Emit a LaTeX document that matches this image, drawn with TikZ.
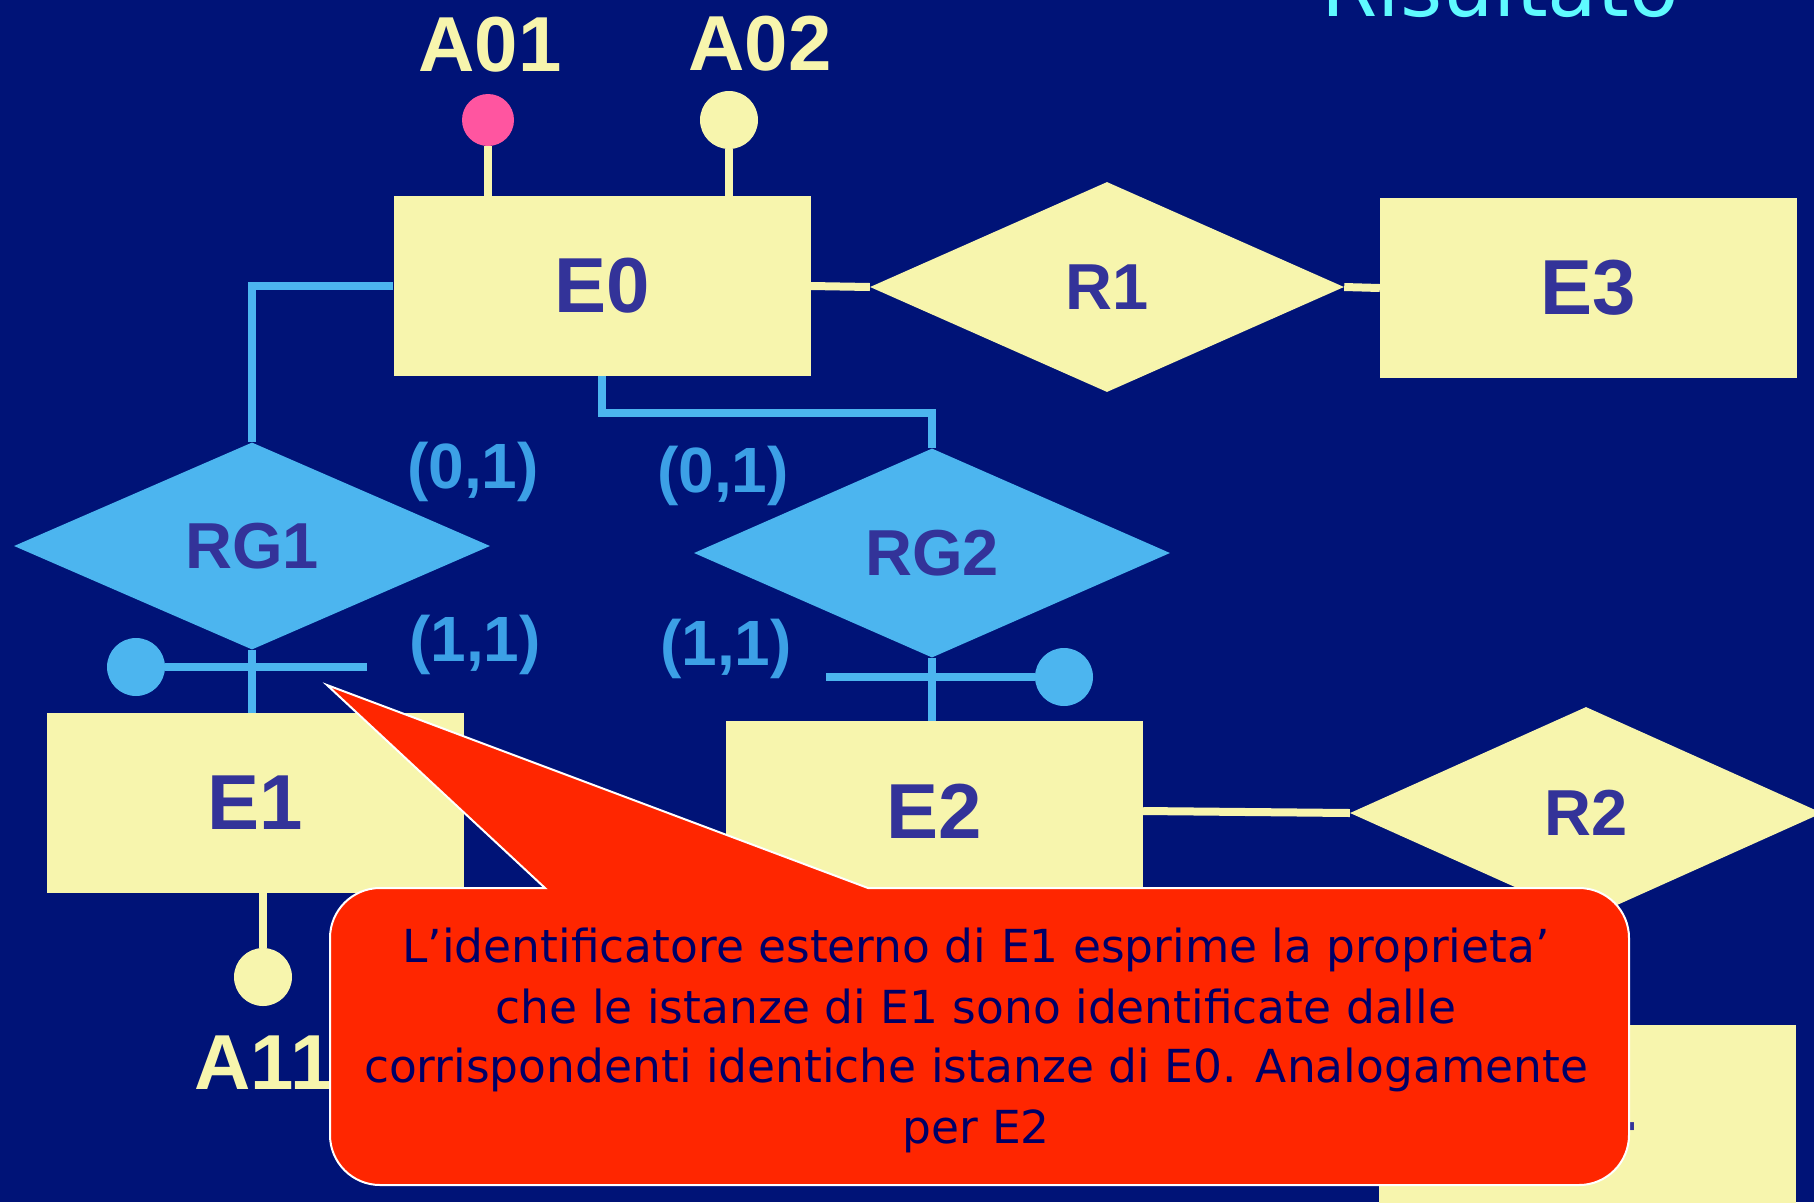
\documentclass[tikz,border=0pt]{standalone}
\usepackage{fontspec}
\usetikzlibrary{shapes.geometric}
\newfontfamily\erfont{Liberation Sans}
\newfontfamily\notefont{DejaVu Sans}
\definecolor{bgnavy}{RGB}{0,19,119}
\definecolor{erYellow}{RGB}{247,245,173}
\definecolor{erText}{RGB}{51,51,153}
\definecolor{erBlue}{RGB}{76,181,239}
\definecolor{cardBlue}{RGB}{60,160,230}
\definecolor{calloutRed}{RGB}{255,38,0}
\definecolor{calloutText}{RGB}{0,0,102}
\definecolor{keyPink}{RGB}{255,85,160}
\definecolor{titleCyan}{RGB}{95,250,255}
\begin{document}
\begin{tikzpicture}[x=1pt,y=-1pt,
  entity/.style={rectangle, fill=erYellow, minimum width=417pt, minimum height=180pt,
    inner sep=0pt, text=erText, font=\erfont\bfseries\fontsize{78pt}{78pt}\selectfont},
  rel/.style={diamond, fill=erYellow, inner sep=0pt, text=erText,
    font=\erfont\bfseries\fontsize{65pt}{65pt}\selectfont},
  idrel/.style={rel, fill=erBlue},
  keydot/.style={circle, inner sep=0pt},
  attrlabel/.style={inner sep=0pt, text=erYellow,
    font=\erfont\bfseries\fontsize{78pt}{78pt}\selectfont},
  card/.style={inner sep=0pt, text=cardBlue,
    font=\erfont\bfseries\fontsize{64pt}{64pt}\selectfont},
  yline/.style={draw=erYellow, line width=8pt},
  bline/.style={draw=erBlue, line width=8pt},
  callout/.style={fill=calloutRed, draw=white, line width=2pt, line join=miter},
  notetext/.style={inner sep=0pt, text=calloutText, anchor=base,
    font=\notefont\fontsize{45.5pt}{60pt}\selectfont},
  headtitle/.style={inner sep=0pt, text=titleCyan, anchor=base,
    font=\notefont\fontsize{81pt}{81pt}\selectfont}]

\useasboundingbox (0,0) rectangle (1814,1202);
\clip (0,0) rectangle (1814,1202);
\fill[bgnavy] (0,0) rectangle (1814,1202);

% slide title, mostly above the page edge
\node[headtitle] (title) at (1500,16) {Risultato};

% entities
\node[entity] (E0) at (602,286) {E0};
\node[entity] (E1) at (255.5,803) {E1};
\node[entity] (E2) at (934.5,811) {E2};
\node[entity] (E3) at (1588.5,288) {E3};
\node[entity] (E4) at (1587.5,1115) {E4};

% relationships
\node[rel, minimum width=474pt, minimum height=210pt] (R1) at (1107,287) {R1};
\node[rel, minimum width=472pt, minimum height=212pt] (R2) at (1586,813) {R2};
\node[idrel, minimum width=476pt, minimum height=207pt] (RG1) at (252,546) {RG1};
\node[idrel, minimum width=476pt, minimum height=209pt] (RG2) at (932,553) {RG2};

% attributes
\node[keydot, fill=keyPink, minimum size=52pt] (a01) at (488,120) {};
\node[keydot, fill=erYellow, minimum size=58pt] (a02) at (729,120) {};
\node[keydot, fill=erYellow, minimum size=58pt] (a11) at (263,977) {};
\node[attrlabel, anchor=base] (a01t) at (490,71) {A01};
\node[attrlabel, anchor=base] (a02t) at (760,70) {A02};
\node[attrlabel, anchor=base] (a11t) at (264,1089) {A11};
\draw[yline] (a01) -- (a01 |- E0.north);
\draw[yline] (a02) -- (a02 |- E0.north);
\draw[yline] (a11) -- (a11 |- E1.south);

% plain relationship links
\draw[yline] (E0.east) -- (R1.west);
\draw[yline] (R1.east) -- (E3.west);
\draw[yline] (E2.east) -- (R2.west);

% identifying relationship links
\draw[bline] (E0.west) -| (RG1.north);
\draw[bline] (E0.south) -- ++(0,37) -| (RG2.north);
\draw[bline] (RG1.south) -- (RG1.south |- E1.north);
\draw[bline] (RG2.south) -- (RG2.south |- E2.north);

% external identifier marks
\node[keydot, fill=erBlue, minimum size=58pt] (k1) at (136,667) {};
\coordinate (k1e) at (367,667);
\draw[bline] (k1) -- (k1e);
\node[keydot, fill=erBlue, minimum size=58pt] (k2) at (1064,677) {};
\coordinate (k2w) at (826,677);
\draw[bline] (k2w) -- (k2);

% cardinalities
\node[card] (c1a) at (473,472) {(0,1)};
\node[card] (c1b) at (475,645) {(1,1)};
\node[card] (c2a) at (723,476) {(0,1)};
\node[card] (c2b) at (726,649) {(1,1)};

% callout balloon
\draw[callout] (380,888) -- (545,888) -- (327,685) -- (868,888) -- (1579,888)
  .. controls (1606.6,888) and (1629,910.4) .. (1629,938) -- (1629,1135)
  .. controls (1629,1162.6) and (1606.6,1185) .. (1579,1185) -- (380,1185)
  .. controls (352.4,1185) and (330,1162.6) .. (330,1135) -- (330,938)
  .. controls (330,910.4) and (352.4,888) .. (380,888) -- cycle;
\node[notetext] (n1) at (976,962) {L’identificatore esterno di E1 esprime la proprieta’};
\node[notetext] (n2) at (976,1023) {che le istanze di E1 sono identificate dalle};
\node[notetext] (n3) at (976,1082) {corrispondenti identiche istanze di E0. Analogamente};
\node[notetext] (n4) at (976,1143) {per E2};
\end{tikzpicture}
\end{document}
